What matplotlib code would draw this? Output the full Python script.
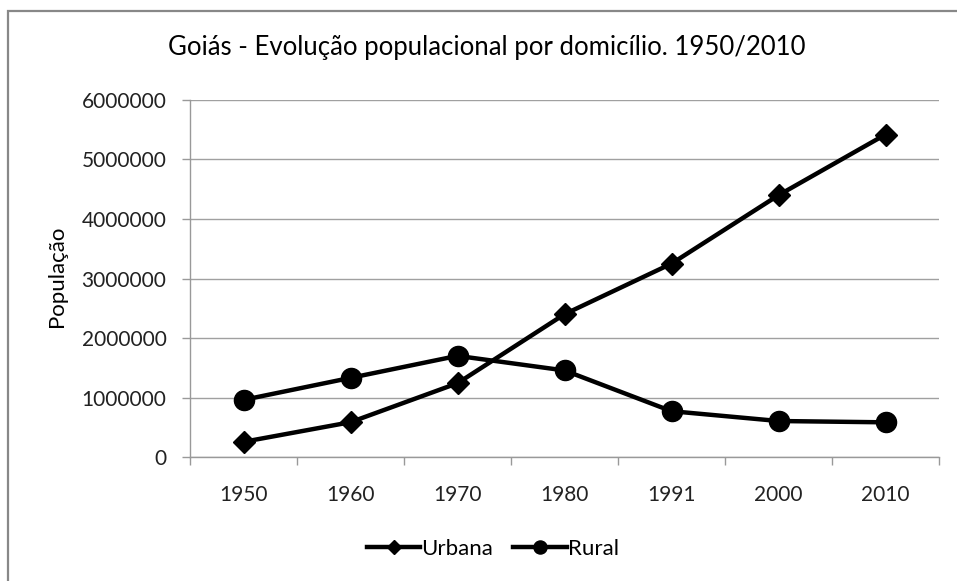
import matplotlib
matplotlib.use('Agg')
import matplotlib.pyplot as plt
from matplotlib.patches import Rectangle
import numpy as np

plt.rcParams['font.family'] = ['Lato', 'DejaVu Sans']

# Dados
anos = ['1950', '1960', '1970', '1980', '1991', '2000', '2010']
urbana = [255000, 585000, 1240000, 2400000, 3250000, 4400000, 5420000]
rural = [960000, 1330000, 1700000, 1455000, 770000, 605000, 583000]
y_ticks = [0, 1000000, 2000000, 3000000, 4000000, 5000000, 6000000]

fig = plt.figure(figsize=(9.57, 5.81), dpi=100)
ax = fig.add_axes([190 / 957, 0.2134, 749 / 957, 0.6145])

xs = np.arange(len(anos))
ax.plot(xs, urbana, color='black', linewidth=3.2, marker='D', markersize=11.5,
        label='Urbana')
ax.plot(xs, rural, color='black', linewidth=3.2, marker='o', markersize=14.5,
        label='Rural')

# Achsen im Excel-Stil
ax.set_xlim(-0.5, len(anos) - 0.5)
ax.set_ylim(0, 6000000)
ax.set_yticks(y_ticks)
ax.set_yticklabels([str(v) for v in y_ticks], fontsize=15, color='#222222')
ax.set_xticks(xs)
ax.set_xticklabels(anos, fontsize=15, color='#222222')
ax.tick_params(axis='x', which='major', length=0, pad=20)
ax.set_xticks(np.arange(-0.5, len(anos), 1), minor=True)
ax.tick_params(axis='x', which='minor', length=6, color='#999999', width=1)
ax.tick_params(axis='y', length=6, color='#999999', width=1, pad=11)

ax.grid(axis='y', color='#a0a0a0', linewidth=1)
ax.set_axisbelow(True)
for s in ['top', 'right']:
    ax.spines[s].set_visible(False)
for s in ['left', 'bottom']:
    ax.spines[s].set_color('#999999')
    ax.spines[s].set_linewidth(1)

fig.text(57 / 957, 0.525, 'População', rotation=90, ha='center', va='center',
         fontsize=16)
fig.text(0.509, 0.918, 'Goiás - Evolução populacional por domicílio. 1950/2010',
         ha='center', va='center', fontsize=18.5)

fig.legend(loc='center', bbox_to_anchor=(0.515, 0.055), ncol=2, frameon=False,
           fontsize=16, handlelength=2.4, handletextpad=0.05, columnspacing=0.9,
           markerscale=0.65)

# Rahmen
fig.patches.append(Rectangle((8 / 957, -0.2), 1.2, 0.2 + (581 - 11) / 581,
                             transform=fig.transFigure, fill=False,
                             edgecolor='#888888', linewidth=1.6))

fig.savefig('out.png', dpi=100)
